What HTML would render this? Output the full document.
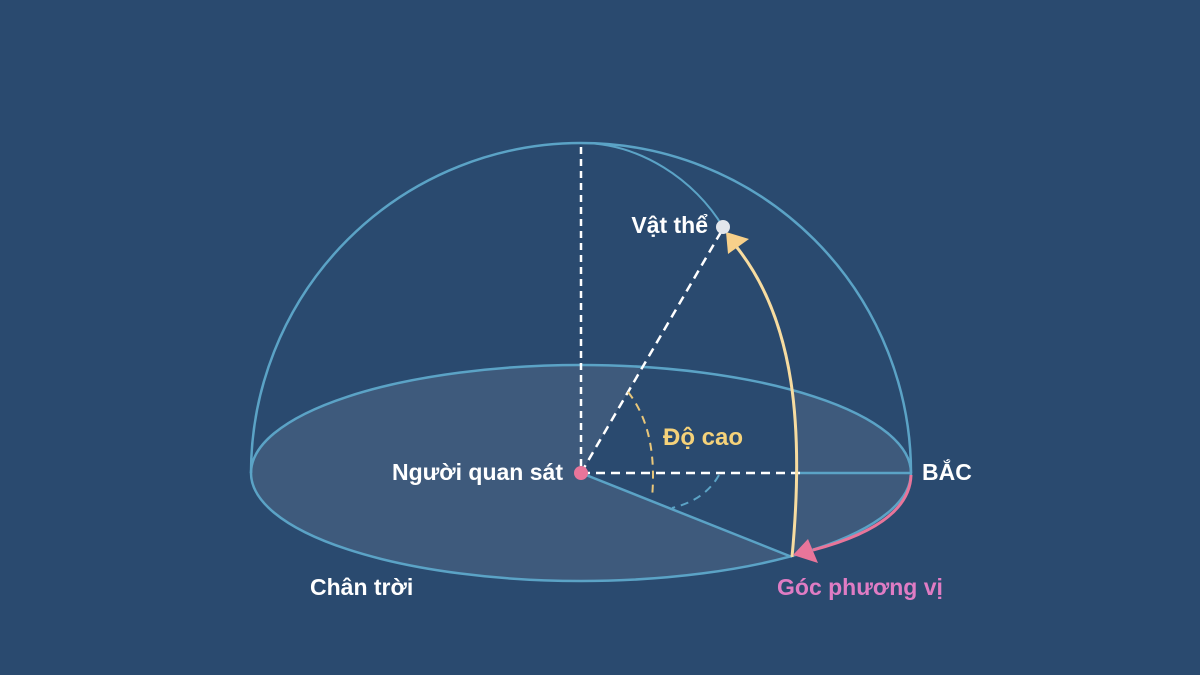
<!DOCTYPE html>
<html><head><meta charset="utf-8"><style>
html,body{margin:0;padding:0;background:#2a4a6f;}
svg{display:block}
text{font-family:"Liberation Sans",Arial,sans-serif;font-weight:bold;}
</style></head><body>
<svg width="1200" height="675" viewBox="0 0 1200 675" xmlns="http://www.w3.org/2000/svg">
<rect width="1200" height="675" fill="#2a4a6f"/>
<ellipse cx="581" cy="473" rx="330" ry="108" fill="#3e5a7c"/>
<!-- vertical plane (background colored) -->
<polygon points="581,473 723,227 735,245 755,272 772,308 783,343 791,382 795,423 797,466 795,510 792,557" fill="#2a4a6f" stroke="none"/>
<ellipse cx="581" cy="473" rx="330" ry="108" fill="none" stroke="#5ba3c6" stroke-width="2.5"/>
<path d="M251,473 A330,330 0 0 1 911,473" fill="none" stroke="#5ba3c6" stroke-width="2.5"/>
<!-- meridian (upper part) -->
<path d="M581,143 C640,143 695,180 723,227" fill="none" stroke="#5ba3c6" stroke-width="2"/>
<line x1="581" y1="473" x2="792" y2="557" stroke="#5ba3c6" stroke-width="2.5"/>
<line x1="795" y1="473" x2="911" y2="473" stroke="#5ba3c6" stroke-width="2.5"/>
<line x1="581" y1="147" x2="581" y2="470" stroke="#ffffff" stroke-width="2.5" stroke-dasharray="7,5"/>
<line x1="581" y1="473" x2="721" y2="232" stroke="#ffffff" stroke-width="2.5" stroke-dasharray="9,6"/>
<line x1="581" y1="473" x2="800" y2="473" stroke="#ffffff" stroke-width="2.5" stroke-dasharray="9,6"/>
<path d="M628,392 Q658,430 652,498" fill="none" stroke="#e9c77a" stroke-width="2" stroke-dasharray="8,6"/>
<path d="M719,475 Q705,500 672,508" fill="none" stroke="#5ba3c6" stroke-width="2" stroke-dasharray="8,6"/>
<!-- altitude arrow -->
<path d="M792,557 C804,430 796,320 735,245" fill="none" stroke="#f7dca0" stroke-width="3"/>
<polygon points="726,232 728,254 749,239" fill="#f7d08a"/>
<!-- azimuth arrow -->
<path d="M911,475 C910,512 870,535 813,550" fill="none" stroke="#e8759a" stroke-width="3"/>
<polygon points="793,555 808,539 818,563" fill="#e8759a"/>
<circle cx="723" cy="227" r="7" fill="#e2e6ec"/>
<circle cx="581" cy="473" r="7" fill="#e8759a"/>
<text x="708" y="233" font-size="23" fill="#ffffff" text-anchor="end">Vật thể</text>
<text x="663" y="445" font-size="24" fill="#f5d27a">Độ cao</text>
<text x="563" y="480" font-size="23" fill="#ffffff" text-anchor="end">Người quan sát</text>
<text x="922" y="480" font-size="23" fill="#ffffff">BẮC</text>
<text x="310" y="595" font-size="23" fill="#ffffff">Chân trời</text>
<text x="777" y="595" font-size="23" fill="#e07cc4">Góc phương vị</text>
</svg>
</body></html>
